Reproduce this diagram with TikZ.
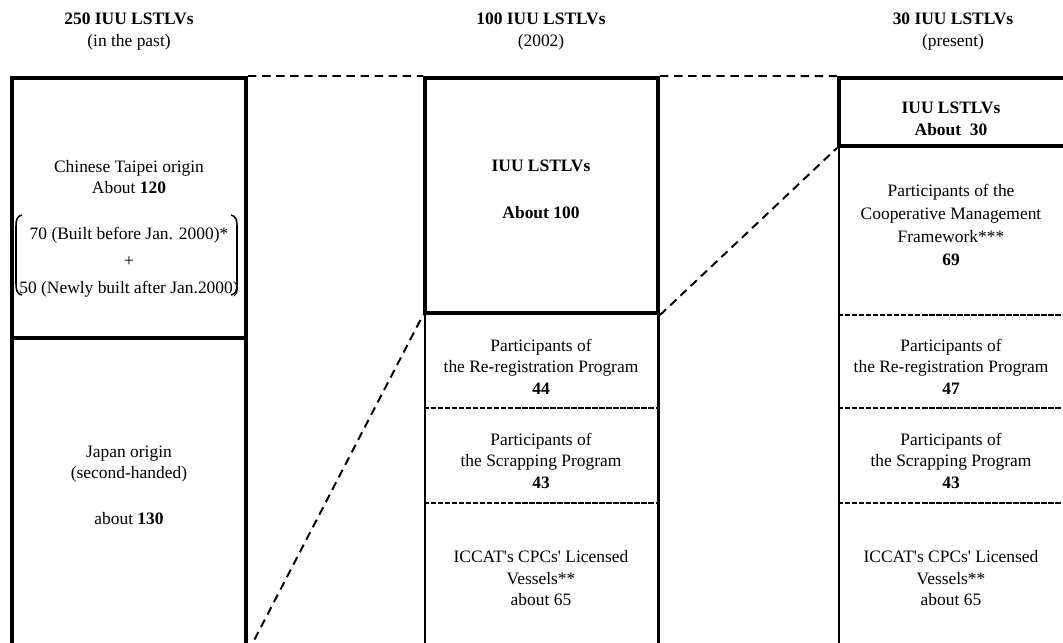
\documentclass[tikz,border=0pt]{standalone}
\usepackage{fontspec}
\setmainfont{Liberation Serif}
\usetikzlibrary{positioning}

\tikzset{
  colbox/.style={draw, rectangle, line width=2.8pt, inner sep=0pt},
  lowbox/.style={draw, rectangle, line width=2.1pt, inner sep=0pt},
  txt/.style={align=center, inner sep=0pt, font=\fontsize{12.4}{15.3}\selectfont},
  link/.style={line width=1.4pt, dash pattern=on 6pt off 4pt},
  divider/.style={line width=1.6pt, dash pattern=on 4pt off 1pt},
  paren/.style={line width=1.1pt}
}
\newcommand{\sq}{\textquotesingle}

\begin{document}
\begin{tikzpicture}[x=0.025cm, y=-0.025cm]
    \useasboundingbox (0,0) rectangle (1063,643);
    \clip (0,0) rectangle (1063,643);

    % the three columns
    \node[colbox, minimum width=5.85cm, minimum height=7.8cm]
      (lBot) at (129,494) {};
    \node[colbox, minimum width=5.85cm, minimum height=6.5cm]
      (lTop) at (129,208) {};
    \node[lowbox, minimum width=5.825cm, minimum height=8.425cm]
      (mBot) at (541.5,481.5) {};
    \node[colbox, minimum width=5.825cm, minimum height=5.875cm]
      (mTop) at (541.5,195.5) {};
    \node[lowbox, minimum width=5.775cm, minimum height=12.6cm]
      (rBot) at (954.5,398) {};
    \node[colbox, minimum width=5.775cm, minimum height=1.7cm]
      (rTop) at (954.5,112) {};

    \foreach \y in {408,503}
      \draw[divider] (mBot.west |- 0,\y) -- (mBot.east |- 0,\y);
    \foreach \y in {315,408,503}
      \draw[divider] (rBot.west |- 0,\y) -- (rBot.east |- 0,\y);

    % headings
    \node[txt] (lHead) at (129,31.5) {\textbf{250 IUU LSTLVs}\\(in the past)};
    \node[txt] (mHead) at (541,31.5) {\textbf{100 IUU LSTLVs}\\(2002)};
    \node[txt] (rHead) at (953,31.5) {\textbf{30 IUU LSTLVs}\\(present)};

    % left column
    \node[txt] (lTaipei) at (129,177) {Chinese Taipei origin\\About \textbf{120}};
    \node[txt, font=\fontsize{12.4}{19.2}\selectfont]
      (lSplit) at (129,262) {70 (Built before Jan. 2000)*\\+\\50 (Newly built after Jan.2000)};
    \draw[paren] (22,215) .. controls (17,216) and (16,220) .. (16,226)
      -- (16,284) .. controls (16,290) and (17,294) .. (22,295);
    \draw[paren] (231,215) .. controls (236,216) and (237,220) .. (237,226)
      -- (237,284) .. controls (237,290) and (236,294) .. (231,295);
    \node[txt] (lJapan) at (129,485) {Japan origin\\(second-handed)\\[0.6cm]about \textbf{130}};

    % middle column
    \node[txt] (mIuu) at (541,189.5) {\textbf{IUU LSTLVs}\\[0.64cm]\textbf{About 100}};
    \node[txt] (mRereg) at (541,366.5) {Participants of\\the Re-registration Program\\\textbf{44}};
    \node[txt] (mScrap) at (541,460.5) {Participants of\\the Scrapping Program\\\textbf{43}};
    \node[txt] (mIccat) at (541,578.5) {ICCAT\sq s CPCs\sq{} Licensed\\Vessels**\\about 65};

    % right column
    \node[txt] (rIuu) at (951,119) {\textbf{IUU LSTLVs}\\\textbf{About\ \ 30}};
    \node[txt, font=\fontsize{12.4}{16.2}\selectfont]
      (rCoop) at (951,225) {Participants of the\\Cooperative Management\\Framework***\\\textbf{69}};
    \node[txt] (rRereg) at (951,366.5) {Participants of\\the Re-registration Program\\\textbf{47}};
    \node[txt] (rScrap) at (951,460.5) {Participants of\\the Scrapping Program\\\textbf{43}};
    \node[txt] (rIccat) at (951,578.5) {ICCAT\sq s CPCs\sq{} Licensed\\Vessels**\\about 65};

    % dashed links between the columns
    \draw[link] (lTop.north east) -- (mTop.north west);
    \draw[link] (mTop.north east) -- (rTop.north west);
    \draw[link] (lBot.south east) -- (mTop.south west);
    \draw[link] (mTop.south east) -- (rTop.south west);
\end{tikzpicture}
\end{document}
